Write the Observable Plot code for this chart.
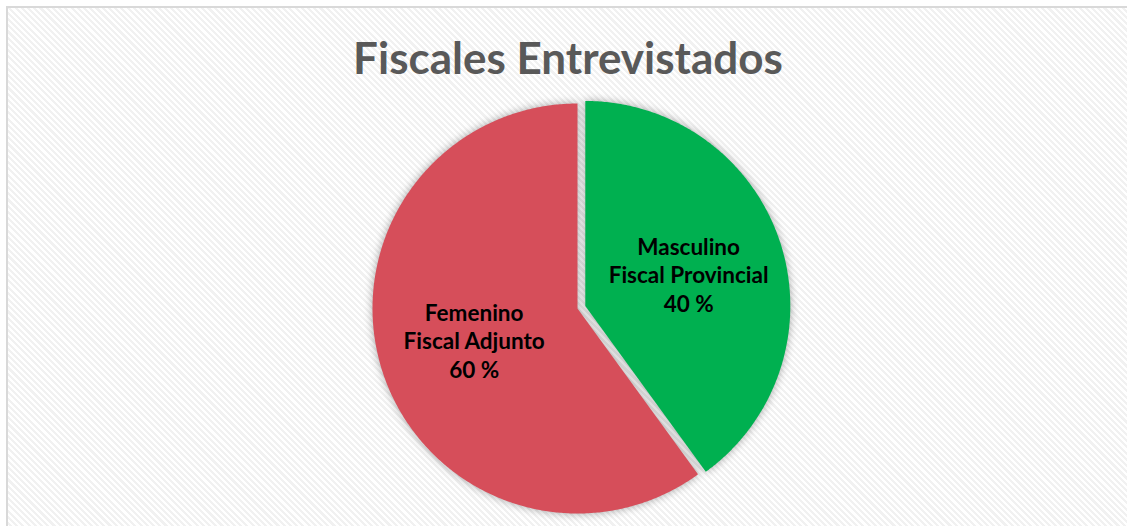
<!DOCTYPE html>
<html>
<head>
<meta charset="utf-8">
<script src="https://cdn.jsdelivr.net/npm/d3@7"></script>
<script src="https://cdn.jsdelivr.net/npm/@observablehq/plot@0.6"></script>
<style>
  html, body { margin: 0; padding: 0; background: #ffffff; }
  #frame {
    position: absolute; left: 6px; top: 6px; width: 1130px; height: 530px;
    border: 2px solid #d9d9d9; box-sizing: border-box;
    background: repeating-linear-gradient(45deg, #ffffff 0px, #ffffff 2.2px, #f1f1f1 2.2px, #f1f1f1 4.4px);
  }
  #chart { position: absolute; left: 0; top: 0; }
  #chart svg { background: transparent; overflow: visible; }
  .slice { filter: drop-shadow(0px 0px 4px rgba(0,0,0,0.35)); }
</style>
</head>
<body>
<div id="frame"></div>
<div id="chart"></div>
<script>
const title = "Fiscales Entrevistados";
const categories = ["Masculino", "Femenino"];
const roles = ["Fiscal Provincial", "Fiscal Adjunto"];
const values = [40, 60];
const colors = ["#00b050", "#d64e5a"];
const explode = [0.04, 0];

const W = 1127, H = 526;
const R = 205;           // pixels per unit radius
const cx = 577, cy = 308; // pie centre in pixels

const pie = d3.pie().sort(null).value(d => d)(values);

// build slice outlines (in unit radius coordinates) from pie angles
const outline = [];
const labels = [];
pie.forEach((p, i) => {
  const mid = (p.startAngle + p.endAngle) / 2;
  const ox = explode[i] * Math.sin(mid), oy = explode[i] * Math.cos(mid);
  outline.push({k: categories[i], x: ox, y: oy});
  const n = Math.max(2, Math.ceil((p.endAngle - p.startAngle) / (Math.PI / 360)));
  for (let j = 0; j <= n; j++) {
    const a = p.startAngle + (p.endAngle - p.startAngle) * j / n;
    outline.push({k: categories[i], x: ox + Math.sin(a), y: oy + Math.cos(a)});
  }
  labels.push({
    x: ox + 0.53 * Math.sin(mid),
    y: oy + 0.5 * Math.cos(mid),
    text: `${categories[i]}\n${roles[i]}\n${d3.format(".0f")(p.data)} %`
  });
});

const chart = Plot.plot({
  width: W, height: H,
  margin: 0,
  style: {background: "transparent", overflow: "visible"},
  x: {domain: [-cx / R, (W - cx) / R], axis: null},
  y: {domain: [-(H - cy) / R, cy / R], axis: null},
  color: {domain: categories, range: colors},
  marks: [
    Plot.line(outline, {x: "x", y: "y", z: "k", fill: "k", stroke: "none", curve: "linear-closed", className: "slice"}),
    Plot.text(labels, {x: "x", y: "y", text: "text", fontSize: 22.5, fontWeight: "bold", lineHeight: 1.27,
      fontFamily: "Lato", fill: "#000000"}),
    Plot.text([title], {frameAnchor: "top", dy: 42, dx: 4, text: d => d, fontSize: 44, fontWeight: "bold",
      fontFamily: "Lato", fill: "#595959"})
  ]
});
document.getElementById("chart").appendChild(chart);
</script>
</body>
</html>
